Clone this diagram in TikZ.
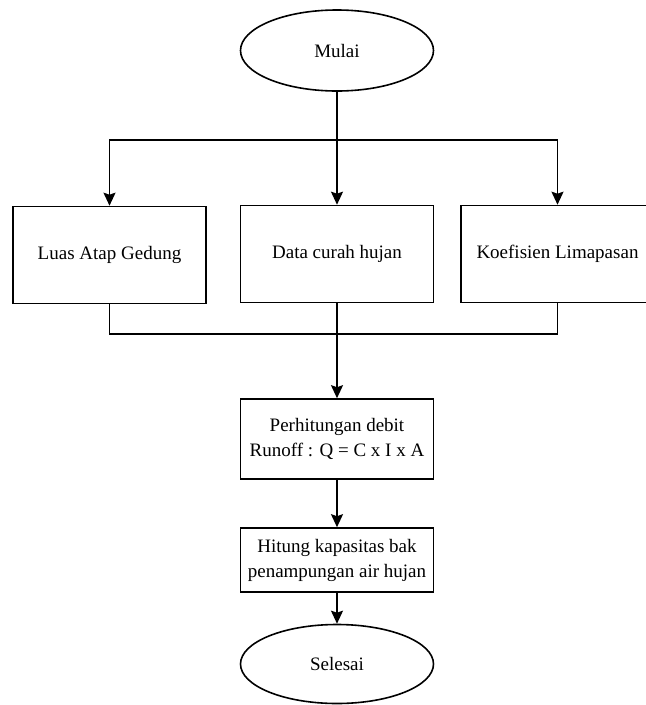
\documentclass[tikz,border=0pt]{standalone}
\usepackage{fontspec}
\setmainfont{Liberation Serif}
\usetikzlibrary{shapes.geometric,arrows.meta}
\begin{document}
\begin{tikzpicture}[x=1pt,y=-1pt,
 every node/.style={font=\fontsize{19}{25}\selectfont},
 proc/.style={draw, line width=1.6pt, inner sep=0pt, align=center, minimum width=193pt},
 term/.style={draw, ellipse, line width=1.6pt, inner sep=0pt, minimum width=193pt, minimum height=81pt},
 conn/.style={line width=1.6pt},
 arr/.style={conn, -{Stealth[length=13pt,width=12pt,inset=2pt]}}]
\useasboundingbox (0,0) rectangle (646,705);
\node[term] (mulai) at (337,50.5) {Mulai};
\node[proc, minimum height=97pt] (luas) at (109.5,255) {Luas Atap Gedung};
\node[proc, minimum height=97pt] (data) at (337,254) {Data curah hujan};
\node[proc, minimum height=97pt] (koef) at (557.5,254) {Koefisien Limapasan};
\node[proc, minimum height=80pt] (hit) at (337,439) {Perhitungan debit\\Runoff : Q = C x I x A};
\node[proc, minimum height=64pt] (kap) at (337,560) {Hitung kapasitas bak\\penampungan air hujan};
\node[term, minimum height=79pt] (sel) at (337,664) {Selesai};
\coordinate (top) at (337,140);
\coordinate (bot) at (337,334);
\draw[conn] (mulai.south) -- (top);
\draw[arr] (top) -| (luas.north);
\draw[arr] (top) -| (koef.north);
\draw[arr] (top) -- (data.north);
\draw[conn] (luas.south) |- (bot) -| (koef.south);
\draw[arr] (data.south) -- (hit.north);
\draw[arr] (hit) -- (kap);
\draw[arr] (kap) -- (sel);
\end{tikzpicture}
\end{document}
